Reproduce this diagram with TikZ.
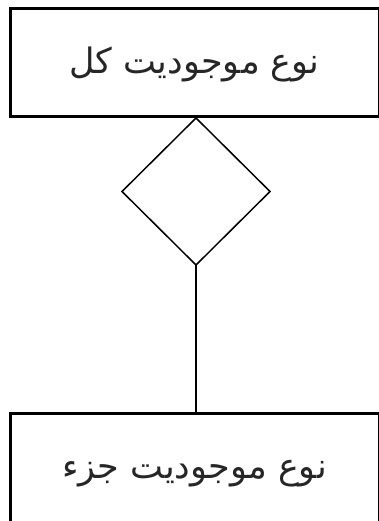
\documentclass[tikz,border=0pt]{standalone}
\usepackage{fontspec}
\usetikzlibrary{shapes.geometric}
\TeXXeTstate=1
\newfontfamily\arabicfont[Script=Arabic]{DejaVu Sans}
\begin{document}
\begin{tikzpicture}[x=1pt,y=1pt,
  entbox/.style={draw,line width=3pt,inner sep=0pt,outer sep=0pt,text=black!85,font=\arabicfont\fontsize{35}{40}\selectfont},
  relshape/.style={draw,diamond,line width=1.5pt,inner sep=0pt,outer sep=0pt,minimum width=148pt,minimum height=147pt},
  conn/.style={line width=1.5pt}]
\useasboundingbox (0,0) rectangle (379,-521);
\clip (0,0) rectangle (379,-521);
\node[entbox,minimum width=369pt,minimum height=108pt] (whole) at (194.5,-63) {\raisebox{-11pt}[0pt][0pt]{\beginR نوع موجودیت کل\endR}};
\node[relshape] (rel) at (196,-191.5) {};
\node[entbox,minimum width=369pt,minimum height=114pt] (part) at (194.5,-470) {\raisebox{-8pt}[0pt][0pt]{\beginR نوع موجودیت جزء\endR}};
\draw[conn] (rel.south) -- (part.north -| rel.south);
\end{tikzpicture}
\end{document}
